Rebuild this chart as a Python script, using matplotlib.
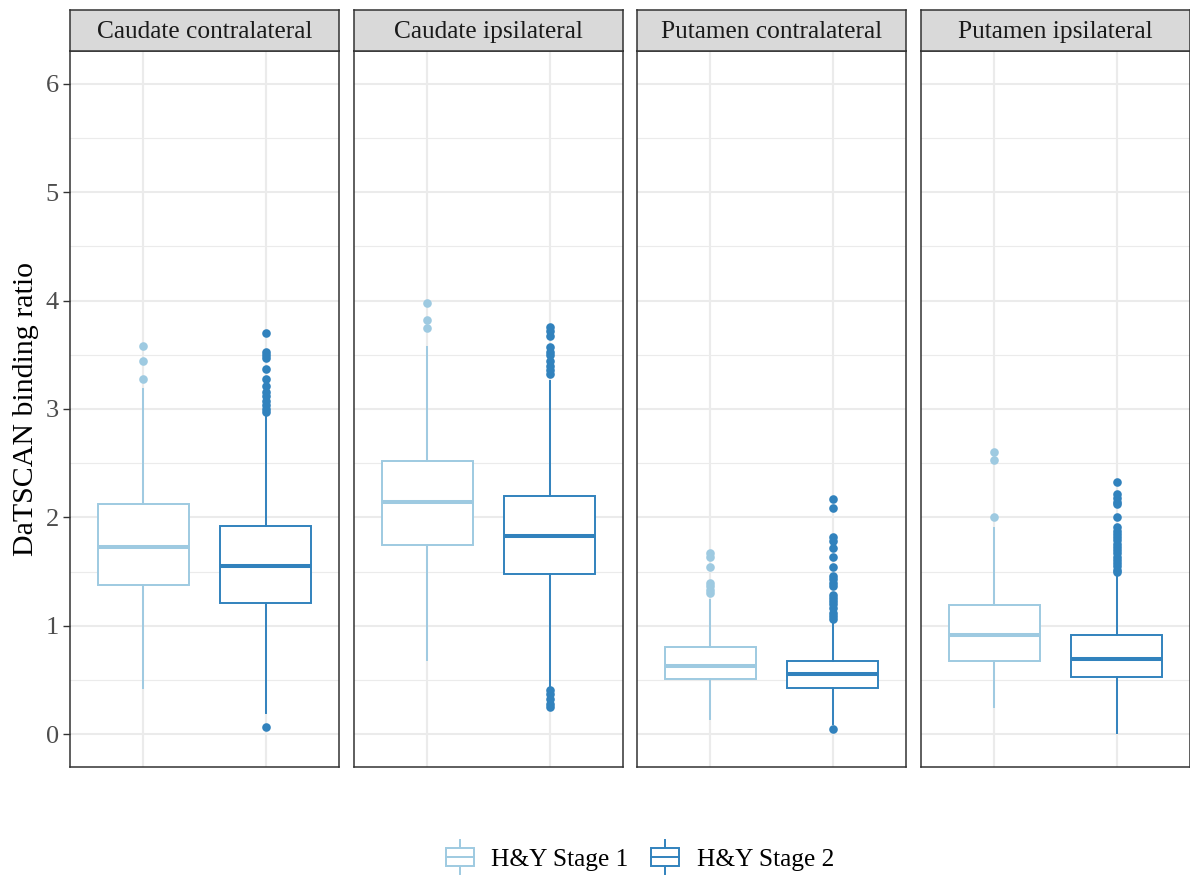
import matplotlib
matplotlib.use("Agg")
import matplotlib.pyplot as plt
from matplotlib.legend_handler import HandlerBase
from matplotlib.patches import Rectangle, Patch
from matplotlib.lines import Line2D

plt.rcParams['font.family'] = ['Liberation Serif', 'DejaVu Serif']

regions = ["Caudate contralateral", "Caudate ipsilateral",
           "Putamen contralateral", "Putamen ipsilateral"]
stages = ["H&Y Stage 1", "H&Y Stage 2"]
colors = ["#9ECAE1", "#3182BD"]

# per region: [stage 1, stage 2]
q1 = [[1.38, 1.21], [1.745, 1.48], [0.51, 0.43], [0.675, 0.53]]
med = [[1.73, 1.55], [2.14, 1.83], [0.63, 0.555], [0.92, 0.695]]
q3 = [[2.12, 1.92], [2.52, 2.20], [0.81, 0.68], [1.19, 0.915]]
whislo = [[0.43, 0.20], [0.69, 0.445], [0.145, 0.10], [0.255, 0.015]]
whishi = [[3.18, 2.93], [3.57, 3.26], [1.235, 1.02], [1.90, 1.465]]
outliers = [
    [[3.58, 3.44, 3.28],
     [3.70, 3.53, 3.50, 3.47, 3.37, 3.28, 3.21, 3.16, 3.12, 3.07,
      3.04, 3.00, 2.97, 0.065]],
    [[3.98, 3.82, 3.75],
     [3.76, 3.72, 3.67, 3.57, 3.53, 3.50, 3.44, 3.40, 3.36, 3.32,
      0.41, 0.37, 0.33, 0.28, 0.25]],
    [[1.67, 1.64, 1.54, 1.40, 1.37, 1.33, 1.30],
     [2.17, 2.09, 1.82, 1.78, 1.72, 1.64, 1.54, 1.46, 1.43, 1.40,
      1.37, 1.29, 1.26, 1.23, 1.20, 1.17, 1.12, 1.09, 1.06, 0.05]],
    [[2.60, 2.53, 2.00],
     [2.33, 2.22, 2.18, 2.14, 2.12, 2.00, 1.91, 1.88, 1.85, 1.82,
      1.79, 1.76, 1.73, 1.70, 1.67, 1.64, 1.61, 1.58, 1.55, 1.52, 1.50]],
]
yticks = [0, 1, 2, 3, 4, 5, 6]

W, H = 1190, 877
fig = plt.figure(figsize=(W / 100, H / 100), dpi=100)

lefts = [70, 354, 637, 921]
pw = 269
pbot, ptop = 767, 51
strip_top = 10

box_lw = 1.4
grid_c = "#EBEBEB"
frame_c = "#333333"

for i, region in enumerate(regions):
    ax = fig.add_axes([lefts[i] / W, (H - pbot) / H, pw / W, (pbot - ptop) / H])
    ax.set_xlim(0.4, 2.6)
    ax.set_ylim(-0.3, 6.3)
    ax.set_yticks(yticks)
    ax.set_yticks([v + 0.5 for v in yticks[:-1]], minor=True)
    ax.set_xticks([1, 2])
    ax.grid(True, which='major', color=grid_c, linewidth=1.5)
    ax.grid(True, which='minor', axis='y', color=grid_c, linewidth=0.8)
    ax.set_axisbelow(True)
    ax.tick_params(axis='x', length=0, labelbottom=False)
    ax.tick_params(axis='y', which='minor', length=0)
    if i == 0:
        ax.tick_params(axis='y', which='major', length=5, width=1,
                       color=frame_c, labelsize=19, labelcolor="#4D4D4D",
                       pad=3)
        ax.set_ylabel("DaTSCAN binding ratio", fontsize=21.5, labelpad=5)
    else:
        ax.tick_params(axis='y', which='major', length=0, labelleft=False)
    for s in ax.spines.values():
        s.set_color(frame_c)
        s.set_linewidth(1.1)

    for j in range(2):
        st = [dict(med=med[i][j], q1=q1[i][j], q3=q3[i][j],
                   whislo=whislo[i][j], whishi=whishi[i][j],
                   fliers=outliers[i][j])]
        c = colors[j]
        ax.bxp(st, positions=[j + 1], widths=0.75, showcaps=False,
               patch_artist=True,
               boxprops=dict(facecolor="white", edgecolor=c, linewidth=box_lw),
               whiskerprops=dict(color=c, linewidth=box_lw),
               medianprops=dict(color=c, linewidth=2.9, solid_capstyle='butt'),
               flierprops=dict(marker='o', markerfacecolor=c,
                               markeredgecolor='none', markersize=6.2))

    sax = fig.add_axes([lefts[i] / W, (H - ptop) / H, pw / W,
                        (ptop - strip_top) / H])
    sax.set_facecolor("#D9D9D9")
    sax.set_xticks([])
    sax.set_yticks([])
    for s in sax.spines.values():
        s.set_color(frame_c)
        s.set_linewidth(1.1)
    sax.text(0.5, 0.47, region, transform=sax.transAxes, ha='center',
             va='center', fontsize=18.3, color="#1A1A1A")


class BoxKeyHandler(HandlerBase):
    def create_artists(self, legend, orig_handle, xdescent, ydescent,
                       width, height, fontsize, trans):
        c = orig_handle.get_edgecolor()
        bw = width * 0.9
        x0 = (width - bw) / 2 - xdescent
        y0 = -ydescent
        rect = Rectangle((x0, y0 + height * 0.1), bw, height * 0.8,
                         facecolor='white', edgecolor=c, linewidth=box_lw,
                         transform=trans)
        cx = x0 + bw / 2
        mid = Line2D([x0, x0 + bw], [y0 + height / 2] * 2, color=c,
                     linewidth=box_lw, transform=trans)
        top = Line2D([cx, cx], [y0 + height * 0.9, y0 + height * 1.25],
                     color=c, linewidth=box_lw, transform=trans)
        bot = Line2D([cx, cx], [y0 - height * 0.25, y0 + height * 0.1],
                     color=c, linewidth=box_lw, transform=trans)
        return [top, bot, rect, mid]


handles = [Patch(facecolor='white', edgecolor=c) for c in colors]
fig.legend(handles, stages, handler_map={Patch: BoxKeyHandler()},
           loc='center', bbox_to_anchor=(0.537, (H - 858) / H), ncol=2,
           frameon=False, fontsize=18.3, handlelength=1.22, handleheight=1.0,
           handletextpad=0.62, columnspacing=0.85)

fig.savefig("out.png", dpi=100)
